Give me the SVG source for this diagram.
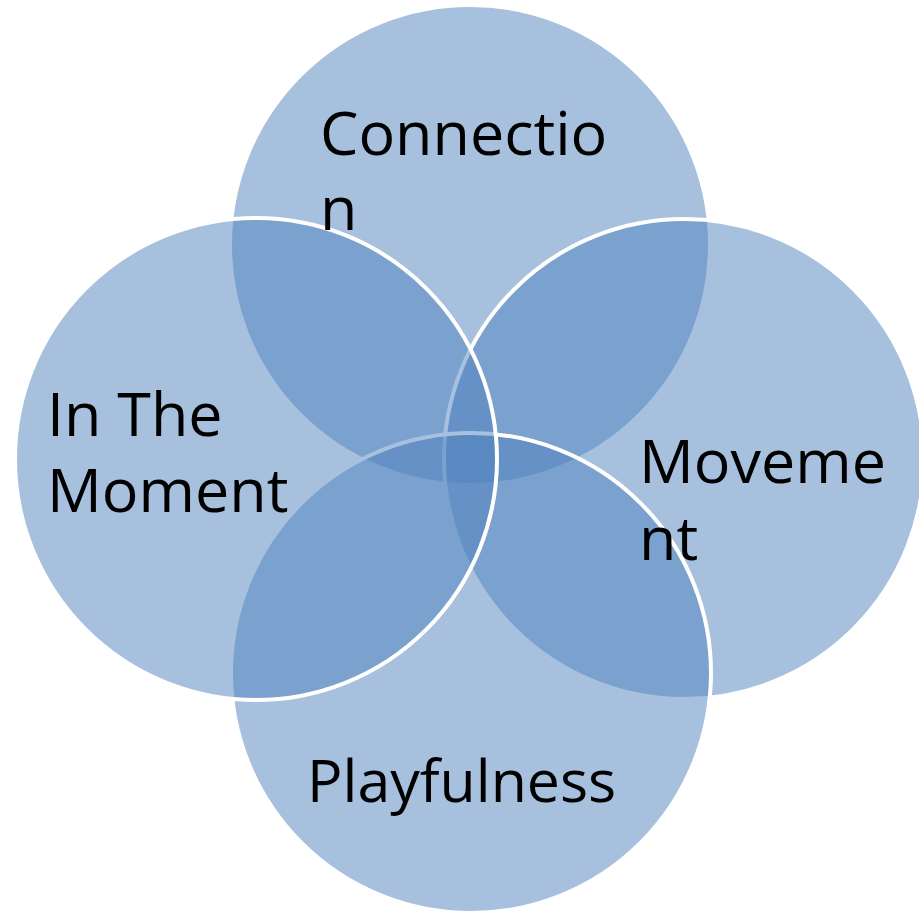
<svg xmlns="http://www.w3.org/2000/svg" width="919" height="915" viewBox="0 0 919 915">
  <style>
    .c { fill: #4F81BD; fill-opacity: 0.5; stroke: #FFFFFF; stroke-width: 4; }
    .t { font-family: "Open Sans", "Noto Sans", "DejaVu Sans", sans-serif; font-size: 61px; fill: #000000; }
    .p { font-size: 59px; }
  </style>
  <rect width="919" height="915" fill="#FFFFFF"/>
  <g id="node-connection">
    <circle class="c" cx="470" cy="245" r="240"/>
  </g>
  <g id="node-movement">
    <circle class="c" cx="684" cy="459" r="240"/>
  </g>
  <g id="node-playfulness">
    <circle class="c" cx="471" cy="673" r="240"/>
  </g>
  <g id="node-in-the-moment">
    <circle class="c" cx="256" cy="459" r="241"/>
  </g>
  <g id="labels">
    <text class="t" x="320" y="155">Connectio</text>
    <text class="t" x="320" y="230">n</text>
    <text class="t" x="47" y="436">In The</text>
    <text class="t" x="47" y="512">Moment</text>
    <text class="t" x="639" y="483">Moveme</text>
    <text class="t" x="639" y="560">nt</text>
    <text class="t p" x="307" y="802">Playfulness</text>
  </g>
  <g id="connectors"></g>
</svg>
